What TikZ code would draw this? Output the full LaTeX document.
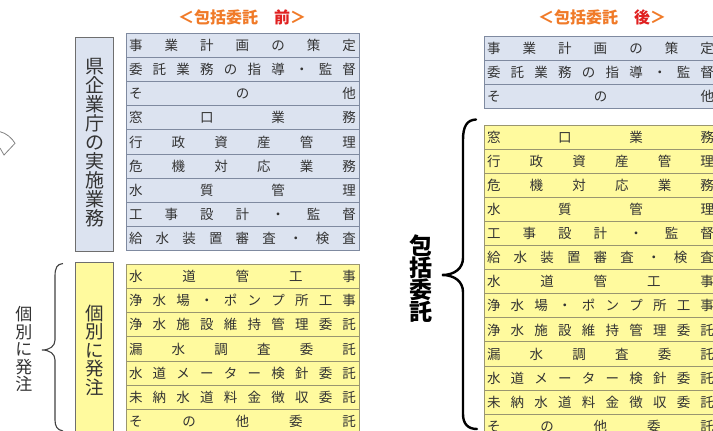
\documentclass[tikz,border=0pt]{standalone}
\usepackage{fontspec}
\setmainfont{Noto Sans CJK JP}
\definecolor{bluefill}{HTML}{DCE3F0}
\definecolor{blueline}{HTML}{7F8AA0}
\definecolor{yelfill}{HTML}{FFFA9E}
\definecolor{yelline}{HTML}{9A9670}
\definecolor{boxline}{HTML}{6E6E6E}
\definecolor{txt}{HTML}{333333}
\definecolor{titleorange}{HTML}{F07A28}
\definecolor{titlered}{HTML}{E02020}
\ExplSyntaxOn
\cs_new:Npn \jsp_first:w #1 #2 \q_stop { #1 \tl_map_inline:nn {#2} { \hfill ##1 } }
\cs_new:Npn \jsp_vfirst:w #1 #2 \q_stop { #1 \tl_map_inline:nn {#2} { \\ ##1 } }
\NewDocumentCommand \jspread { m }
  { \makebox[227pt][s]{ \exp_last_unbraced:No \jsp_first:w #1 \q_stop } }
\NewDocumentCommand \jvstack { m }
  { \exp_last_unbraced:No \jsp_vfirst:w #1 \q_stop }
\ExplSyntaxOff
\tikzset{
  rowbase/.style={rectangle, minimum width=233pt, minimum height=24.2pt, inner sep=0pt,
    line width=0.9pt, text=txt, font=\fontsize{13.5}{14}\selectfont},
  bluerow/.style={rowbase, fill=bluefill, draw=blueline},
  yelrow/.style={rowbase, fill=yelfill, draw=yelline},
  labelbox/.style={rectangle, draw=boxline, line width=0.9pt, inner sep=0pt},
  vlabel/.style={align=center, inner sep=0pt, text=txt},
  titletext/.style={font=\bfseries\fontsize{16}{17}\selectfont, text=titleorange, inner sep=0pt},
  bracelight/.style={draw=black!75, line width=1.1pt},
  braceheavy/.style={draw=black, line width=2.4pt, line cap=round},
}
\begin{document}
\begin{tikzpicture}[x=1pt,y=-1pt]
\useasboundingbox (0,0) rectangle (713,431);
% titles
\node[titletext] (t1) at (242,17) {＜包括委託　{\color{titlered}前}＞};
\node[titletext] (t2) at (602,17) {＜包括委託　{\color{titlered}後}＞};
% partial shape at left edge
\draw[black!50, line width=0.8pt] (0,131.7) .. controls (6,133) and (12,138) .. (15,143.3) -- (4,155) -- (0,148);
% left label boxes
\draw[labelbox, fill=bluefill] (75,37) rectangle (113,251);
\node[vlabel, font=\fontsize{19}{19}\selectfont] (lab1) at (95,143) {\jvstack{県企業庁の実施業務}};
\draw[labelbox, fill=yelfill] (75,262) rectangle (113,445);
\node[vlabel, font=\fontsize{18.5}{18.5}\selectfont] (lab2) at (95,350) {\jvstack{個別に発注}};
% left brace and label
\draw[bracelight] (63,263.5) .. controls (57,264) and (55,268) .. (55,276) -- (55,340)
  .. controls (55,346) and (50,350) .. (42,350) .. controls (50,350) and (55,354) .. (55,360)
  -- (55,420) .. controls (55,426) and (57,430) .. (63,431);
\node[vlabel, font=\fontsize{17}{17.5}\selectfont] (lab3) at (24,349) {\jvstack{個別に発注}};
% left tables
\foreach \t [count=\i] in {事業計画の策定,委託業務の指導・監督,その他,窓口業務,行政資産管理,危機対応業務,水質管理,工事設計・監督,給水装置審査・検査}
  \node[bluerow] (lb\i) at (242.5,{33+(\i-0.5)*24.2}) {\jspread{\t}};
\foreach \t [count=\i] in {水道管工事,浄水場・ポンプ所工事,浄水施設維持管理委託,漏水調査委託,水道メーター検針委託,未納水道料金徴収委託,その他委託}
  \node[yelrow] (ly\i) at (242.5,{264.3+(\i-0.5)*24.2}) {\jspread{\t}};
% right tables
\foreach \t [count=\i] in {事業計画の策定,委託業務の指導・監督,その他}
  \node[bluerow, minimum height=24.3pt] (rb\i) at (600.5,{36+(\i-0.5)*24.3}) {\jspread{\t}};
\foreach \t [count=\i] in {窓口業務,行政資産管理,危機対応業務,水質管理,工事設計・監督,給水装置審査・検査,水道管工事,浄水場・ポンプ所工事,浄水施設維持管理委託,漏水調査委託,水道メーター検針委託,未納水道料金徴収委託,その他委託}
  \node[yelrow, minimum height=24.1pt] (ry\i) at (600.5,{125+(\i-0.5)*24.1}) {\jspread{\t}};
% right brace and label
\draw[braceheavy] (476,119.5) .. controls (467,120) and (463,126) .. (463,140) -- (463,258)
  .. controls (463,268) and (455,275) .. (442,275) .. controls (455,275) and (463,282) .. (463,292)
  -- (463,414) .. controls (463,424) and (468,429) .. (477,429);
\node[vlabel, font=\bfseries\fontsize{23}{22}\selectfont, text=black] (lab4) at (421,279) {\jvstack{包括委託}};
\end{tikzpicture}
\end{document}
